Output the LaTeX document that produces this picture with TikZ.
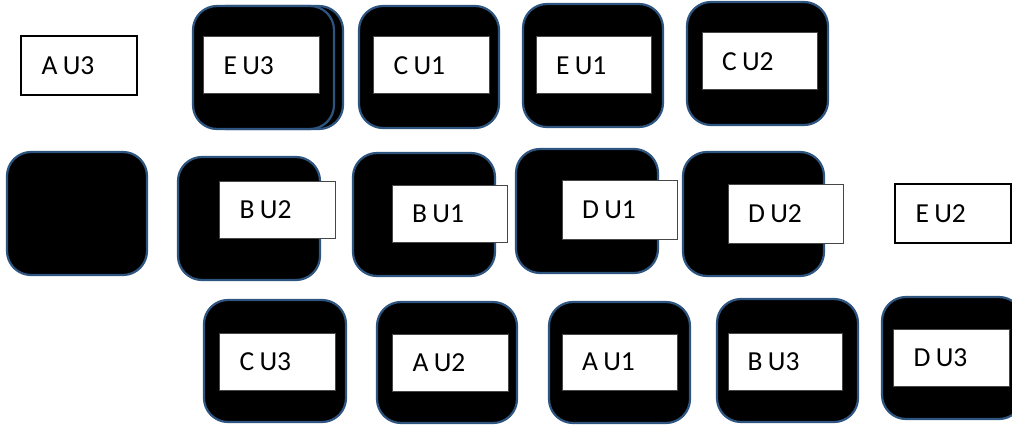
\documentclass[tikz,border=0pt]{standalone}
\usepackage{fontspec}
\setmainfont{Carlito}
\definecolor{tileblue}{RGB}{46,84,128}
\definecolor{lblgray}{RGB}{70,70,70}
\newcommand\lblfont{\fontsize{27.5}{32}\selectfont}
\newcommand\tightsp{\spaceskip=5.4pt\relax}
\tikzset{
  tile/.style={draw=tileblue, line width=2.2pt, fill=black, rounded corners=24pt, inner sep=0pt, outer sep=0pt},
  lbl/.style={draw=lblgray, line width=1pt, fill=white, inner xsep=0pt, inner ysep=0pt, text width=75pt, align=left, font=\lblfont},
  plain/.style={lbl, draw=black, line width=1.2pt}
}
\newcommand\tilebox[5]{\node[tile, minimum width={(#4-#2)*1pt}, minimum height={(#5-#3)*1pt}] (#1) at ({(#2+#4)/2},{(#3+#5)/2}) {};}
\newcommand\lblbox[7]{\node[#7, minimum width={(#4-#2)*1pt}, minimum height={(#5-#3)*1pt}] (#1) at ({(#2+#4)/2},{(#3+#5)/2}) {\tightsp #6};}
\begin{document}
\begin{tikzpicture}[x=1pt,y=-1pt]
\useasboundingbox (0,0) rectangle (1012,425);
\begin{scope}
\clip (0,0) rectangle (1012,425);
% row 1
\lblbox{au3}{21}{36}{137}{95}{A U3}{plain}
\tilebox{teu3b}{202}{6}{343}{129}
\tilebox{teu3}{193}{6}{334}{129}
\lblbox{eu3}{203}{37}{319}{94}{E U3}{lbl}
\tilebox{tcu1}{359}{6}{499}{128}
\lblbox{cu1}{373}{37}{489}{94}{C U1}{lbl}
\tilebox{teu1}{523}{4}{663}{127}
\lblbox{eu1}{536}{37}{651}{94}{E U1}{lbl}
\tilebox{tcu2}{687}{2}{828}{125}
\lblbox{cu2}{702}{33}{817}{90}{C U2}{lbl}
% row 2
\tilebox{tempty}{7}{152}{147}{275}
\tilebox{tbu2}{178}{157}{320}{280}
\lblbox{bu2}{219}{181}{335}{238}{B U2}{lbl}
\tilebox{tbu1}{353}{153}{495}{276}
\lblbox{bu1}{392}{185}{507}{242}{B U1}{lbl}
\tilebox{tdu1}{516}{149}{658}{273}
\lblbox{du1}{562}{180}{677}{239}{D U1}{lbl}
\tilebox{tdu2}{683}{152}{824}{276}
\lblbox{du2}{728}{184}{843}{243}{D U2}{lbl}
\lblbox{eu2}{895}{184}{1011}{243}{E U2}{plain}
% row 3
\tilebox{tcu3}{204}{300}{346}{422}
\lblbox{cu3}{219}{333}{335}{390}{C U3}{lbl}
\tilebox{tau2}{377}{302}{517}{423}
\lblbox{au2}{392}{334}{508}{391}{A U2}{lbl}
\tilebox{tau1}{549}{302}{690}{423}
\lblbox{au1}{562}{334}{677}{390}{A U1}{lbl}
\tilebox{tbu3}{717}{299}{858}{422}
\lblbox{bu3}{728}{333}{842}{390}{B U3}{lbl}
\tilebox{tdu3}{882}{297}{1023}{419}
\lblbox{du3}{893}{329}{1009}{386}{D U3}{lbl}
\end{scope}
\end{tikzpicture}
\end{document}
